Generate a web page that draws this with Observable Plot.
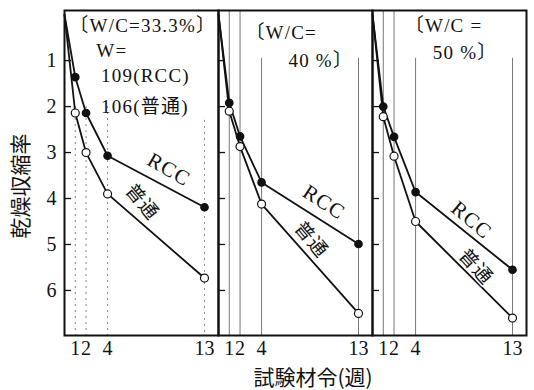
<!DOCTYPE html>
<html>
<head>
<meta charset="utf-8">
<script src="https://cdn.jsdelivr.net/npm/d3@7"></script>
<script src="https://cdn.jsdelivr.net/npm/@observablehq/plot@0.6"></script>
<style>
  html, body { margin: 0; padding: 0; background: #fff; }
</style>
</head>
<body>
<div id="chart"></div>
<script>
// ---- data ----
const panels = ["33.3", "40", "50"];
const weeks = [0, 1, 2, 4, 13];
const tickWeeks = [1, 2, 4, 13];
const yTicks = [1, 2, 3, 4, 5, 6];
const rcc333 = [0, 1.36, 2.14, 3.07, 4.19];
const std333 = [0, 2.14, 3.00, 3.90, 5.73];
const rcc40 = [0, 1.92, 2.65, 3.65, 4.99];
const std40 = [0, 2.10, 2.87, 4.12, 6.50];
const rcc50 = [0, 2.00, 2.66, 3.86, 5.55];
const std50 = [0, 2.22, 3.08, 4.50, 6.60];
const seriesNames = ["RCC", "普通"];
const headerTexts = [
  ["〔W/C=33.3%〕", "W=", "109(RCC)", "106(普通)"],
  ["〔W/C=", "40 %〕"],
  ["〔W/C =", "50 %〕"]
];
const xTitle = "試験材令(週)";
const yTitle = "乾燥収縮率";

// ---- build tables ----
const valuesBy = {
  "33.3": {RCC: rcc333, "普通": std333},
  "40": {RCC: rcc40, "普通": std40},
  "50": {RCC: rcc50, "普通": std50}
};
const rows = [];
for (const p of panels) for (const s of seriesNames)
  weeks.forEach((w, i) => rows.push({panel: p, series: s, week: w, value: valuesBy[p][s][i]}));
const pts = rows.filter(d => d.week > 0);

const guides = [];
for (const p of panels) for (const w of tickWeeks) {
  let top = -0.09;
  if (p === "33.3") top = w === 13 ? 2.3 : 2.0;
  else if (w >= 4) top = 0.95;
  guides.push({panel: p, week: w, top});
}
const inTicks = [];
for (const p of panels) for (const v of yTicks) inTicks.push({panel: p, v});

// header placement (data coords)
const headerPos = [
  [[0.45, 0.24], [2.95, 0.78], [3.4, 1.33], [3.4, 2.0]],
  [[2.5, 0.4], [6.5, 1.0]],
  [[3.0, 0.24], [5.6, 0.83]]
];
const headers = [];
panels.forEach((p, i) => headerTexts[i].forEach((t, j) =>
  headers.push({panel: p, text: t, x: headerPos[i][j][0], y: headerPos[i][j][1]})));

const labelPos = [
  {panel: "33.3", text: "RCC", x: 9.7, y: 3.37, r: 30},
  {panel: "33.3", text: "普通", x: 7.2, y: 4.08, r: 50},
  {panel: "40", text: "RCC", x: 9.8, y: 4.08, r: 33},
  {panel: "40", text: "普通", x: 8.6, y: 4.9, r: 50},
  {panel: "50", text: "RCC", x: 9.2, y: 4.47, r: 40},
  {panel: "50", text: "普通", x: 9.6, y: 5.49, r: 48}
];

const serif = "'Liberation Serif', 'DejaVu Serif', 'Noto Sans CJK JP', serif";
const cjk = "'Noto Sans CJK JP', sans-serif";

const chart = Plot.plot({
  width: 534,
  height: 390,
  marginLeft: 63,
  marginRight: 7,
  marginTop: 10,
  marginBottom: 55,
  style: {fontFamily: serif, fontSize: "20px", color: "#111", background: "#fff"},
  fx: {domain: panels, padding: 0, axis: null, label: null},
  x: {domain: [0, 14.3], ticks: tickWeeks, tickSize: 0, tickPadding: 5, label: null, tickFormat: d => String(d)},
  y: {domain: [-0.09, 6.98], reverse: true, ticks: yTicks, tickSize: 0, tickPadding: 8, label: null, tickFormat: d => String(d)},
  marks: [
    Plot.ruleX(guides.filter(d => d.panel === "33.3"), {fx: "panel", x: "week", y1: "top", y2: 6.98, stroke: "#666", strokeWidth: 0.8, strokeDasharray: "2,4"}),
    Plot.ruleX(guides.filter(d => d.panel !== "33.3"), {fx: "panel", x: "week", y1: "top", y2: 6.98, stroke: "#555", strokeWidth: 0.8}),
    Plot.ruleY(inTicks, {fx: "panel", y: "v", x1: 0, x2: 0.65, stroke: "#111", strokeWidth: 1.3}),
    Plot.line(rows, {fx: "panel", x: "week", y: "value", z: "series", stroke: "#111", strokeWidth: 1.8}),
    Plot.dot(pts.filter(d => d.series === "RCC"), {fx: "panel", x: "week", y: "value", r: 3.6, fill: "#111", stroke: "#111"}),
    Plot.dot(pts.filter(d => d.series === "普通"), {fx: "panel", x: "week", y: "value", r: 4, fill: "#fff", stroke: "#111", strokeWidth: 1.2}),
    Plot.text(headers, {fx: "panel", x: "x", y: "y", text: "text", textAnchor: "start", fontSize: 19, fill: "#111"}),
    Plot.text(labelPos.filter(d => d.text === "RCC"), {fx: "panel", x: "x", y: "y", text: "text", rotate: "r", fontSize: 21, fill: "#111", stroke: "#fff", strokeWidth: 3, paintOrder: "stroke"}),
    Plot.text(labelPos.filter(d => d.text !== "RCC"), {fx: "panel", x: "x", y: "y", text: "text", rotate: "r", fontSize: 19, fill: "#111", stroke: "#fff", strokeWidth: 3, paintOrder: "stroke"}),
    Plot.frame({stroke: "#111", strokeWidth: 2})
  ]
});

const svg = d3.select(chart);
svg.selectAll("g[aria-label='text'] text").attr("letter-spacing", 1.2);
svg.append("text")
  .attr("transform", "translate(22,186) rotate(-90)")
  .attr("text-anchor", "middle")
  .attr("dominant-baseline", "middle")
  .attr("font-family", cjk)
  .attr("font-size", 21)
  .attr("fill", "#111")
  .text(yTitle);
svg.append("text")
  .attr("x", 313)
  .attr("y", 379)
  .attr("text-anchor", "middle")
  .attr("dominant-baseline", "middle")
  .attr("font-family", cjk)
  .attr("font-size", 21)
  .attr("fill", "#111")
  .text(xTitle);

document.getElementById("chart").appendChild(chart);
</script>
</body>
</html>
